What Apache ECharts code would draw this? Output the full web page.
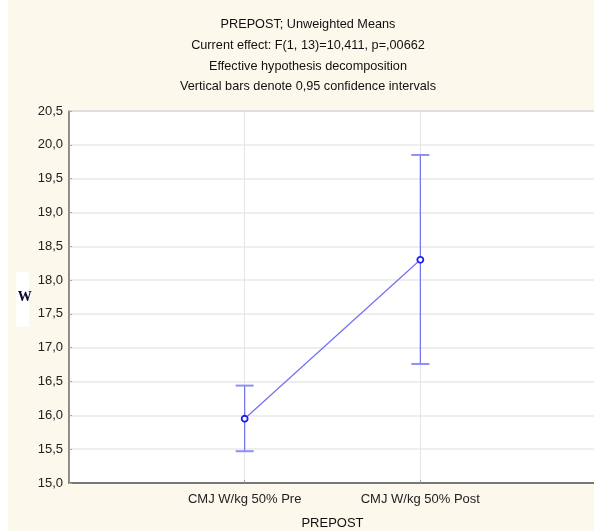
<!DOCTYPE html>
<html><head><meta charset="utf-8">
<script src="https://cdn.jsdelivr.net/npm/echarts@6/dist/echarts.min.js"></script>
<style>html,body{margin:0;padding:0;background:#fdf8ec;}#c{width:594px;height:531px;}</style>
</head><body><div id="c"></div>
<script>
const categories = ["CMJ W/kg 50% Pre", "CMJ W/kg 50% Post"];
const means = [15.95, 18.30];
const lower = [15.47, 16.76];
const upper = [16.44, 19.85];
const titleLines = ["PREPOST; Unweighted Means", "Current effect: F(1, 13)=10,411, p=,00662", "Effective hypothesis decomposition", "Vertical bars denote 0,95 confidence intervals"];

const chart = echarts.init(document.getElementById('c'));
const xPos = categories.map((c, i) => i + 1);
const font = 'Liberation Sans, Arial, sans-serif';
chart.setOption({
  backgroundColor: '#fdf8ec',
  animation: false,
  graphic: [
    {type: 'rect', left: 0, top: 0, shape: {width: 8, height: 531}, style: {fill: '#ffffff'}, z: -1},
    {type: 'rect', left: 16, top: 272, shape: {width: 13, height: 55, r: 3}, style: {fill: '#ffffff'}, z: 0},
    {type: 'text', x: 308, y: 14, style: {text: titleLines.join('\n'), font: '12.7px ' + font, fill: '#111', lineHeight: 20.8, textAlign: 'center', align: 'center'}}
  ],
  grid: {left: 69, right: -2, top: 111, bottom: 48, outerBoundsMode: 'none', containLabel: false, show: true, backgroundColor: '#ffffff', borderColor: '#8a8a8a', borderWidth: 1},
  xAxis: {
    type: 'value', min: 0, max: 3, interval: 1,
    name: 'PREPOST', nameLocation: 'middle', nameGap: 34,
    nameTextStyle: {fontFamily: font, fontSize: 13, color: '#111'},
    axisLine: {show: true, onZero: false, lineStyle: {color: '#777', width: 2}},
    axisTick: {show: true, inside: true, length: 3, lineStyle: {color: '#999'}},
    axisLabel: {fontFamily: font, fontSize: 13, color: '#222', margin: 10,
      formatter: v => (v >= 1 && v <= categories.length && Number.isInteger(v)) ? categories[v - 1] : ''},
    splitLine: {show: true, lineStyle: {color: '#e4e4e4', width: 1}}
  },
  yAxis: {
    type: 'value', min: 15, max: 20.5, interval: 0.5,
    name: 'W', nameLocation: 'middle', nameGap: 34, nameRotate: 0,
    nameTextStyle: {fontFamily: 'Liberation Serif, DejaVu Serif, serif', fontWeight: 'bold', fontSize: 14, color: '#0a0a30'},
    axisLine: {show: true, lineStyle: {color: '#777', width: 1.5}},
    axisTick: {show: true, inside: true, length: 3, lineStyle: {color: '#aaa'}},
    axisLabel: {fontFamily: font, fontSize: 13, color: '#222', margin: 6,
      formatter: v => v.toFixed(1).replace('.', ',')},
    splitLine: {show: true, lineStyle: {color: '#e8e8e8', width: 1.5}}
  },
  series: [
    {
      type: 'custom',
      data: xPos.map((x, i) => [x, lower[i], upper[i]]),
      renderItem: (params, api) => {
        const x = api.value(0);
        const lo = api.coord([x, api.value(1)]);
        const hi = api.coord([x, api.value(2)]);
        const w = 9;
        const st = {stroke: '#6f6ff5', lineWidth: 1.2};
        return {type: 'group', children: [
          {type: 'line', shape: {x1: lo[0], y1: lo[1], x2: hi[0], y2: hi[1]}, style: st},
          {type: 'line', shape: {x1: lo[0] - w, y1: lo[1], x2: lo[0] + w, y2: lo[1]}, style: {stroke: '#8f8ff5', lineWidth: 2}},
          {type: 'line', shape: {x1: hi[0] - w, y1: hi[1], x2: hi[0] + w, y2: hi[1]}, style: {stroke: '#8f8ff5', lineWidth: 2}}
        ]};
      },
      z: 2
    },
    {
      type: 'line',
      data: xPos.map((x, i) => [x, means[i]]),
      symbol: 'circle', symbolSize: 6,
      itemStyle: {color: '#ffffff', borderColor: '#2020ee', borderWidth: 1.8},
      lineStyle: {color: '#7070f5', width: 1.2},
      z: 3
    }
  ]
});
</script></body></html>
